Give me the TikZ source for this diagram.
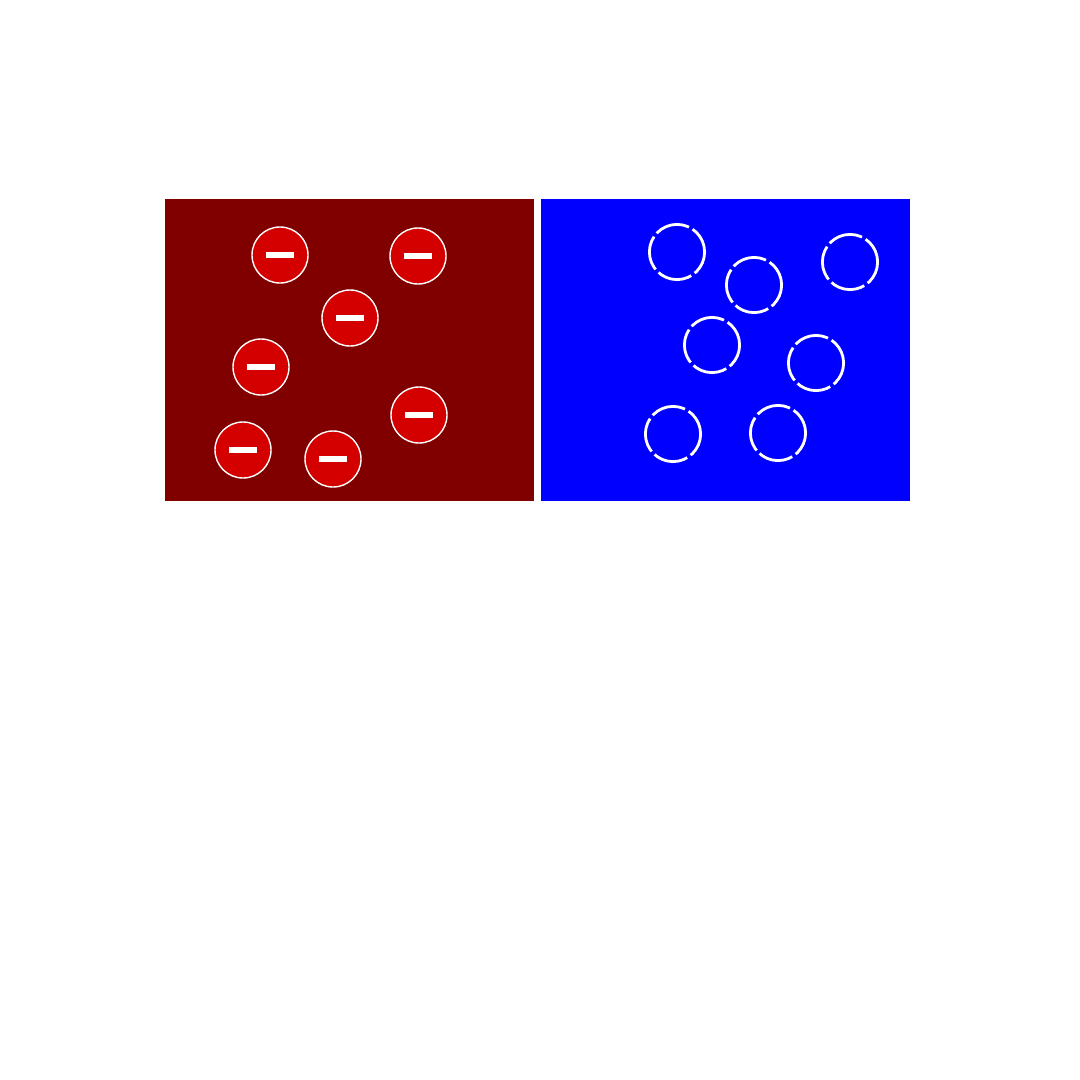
\documentclass[tikz,border=0pt]{standalone}
\usepackage{tikz}
\definecolor{darkred}{RGB}{128,0,0}
\definecolor{chargered}{RGB}{212,0,0}
\definecolor{pureblue}{RGB}{0,0,255}

\begin{document}
\begin{tikzpicture}[x=0.025cm, y=-0.025cm,
    electron/.style={circle, draw=white, line width=1pt, fill=chargered, minimum size=1.4cm, inner sep=0pt,
        path picture={\fill[white] ([xshift=-0.35cm,yshift=-0.075cm]path picture bounding box.center) rectangle ([xshift=0.35cm,yshift=0.075cm]path picture bounding box.center);}},
    hole/.style={circle, draw=white, line width=2pt, dash pattern=on 25pt off 3pt, dash phase=6pt, minimum size=1.38cm, inner sep=0pt}
]
\useasboundingbox[fill=white] (0,0) rectangle (1080,1080);

% n-type and p-type regions
\fill[darkred] (165,199) rectangle (534,501);
\fill[pureblue] (541,199) rectangle (910,501);

% Electrons
\node[electron] (e1) at (280,255) {};
\node[electron] (e2) at (418,256) {};
\node[electron] (e3) at (350,318) {};
\node[electron] (e4) at (261,367) {};
\node[electron] (e5) at (419,415) {};
\node[electron] (e6) at (243,450) {};
\node[electron] (e7) at (333,459) {};

% Holes
\node[hole] (h1) at (677,252) {};
\node[hole] (h2) at (754,285) {};
\node[hole] (h3) at (850,262) {};
\node[hole] (h4) at (712,345) {};
\node[hole] (h5) at (816,363) {};
\node[hole] (h6) at (673,434) {};
\node[hole] (h7) at (778,433) {};

\end{tikzpicture}
\end{document}
